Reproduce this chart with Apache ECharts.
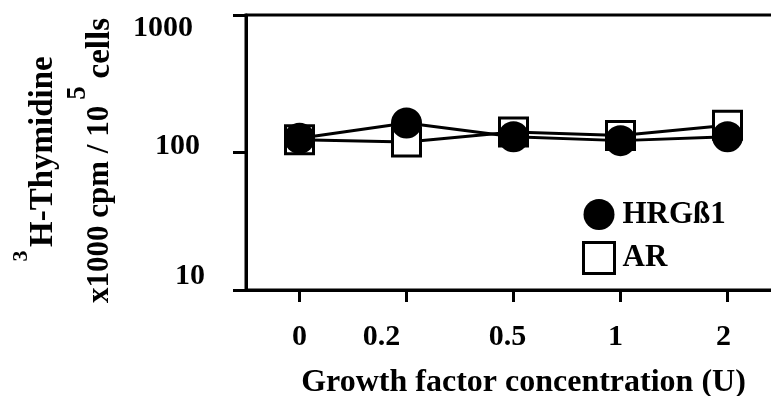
<!DOCTYPE html>
<html>
<head>
<meta charset="utf-8">
<script src="https://cdn.jsdelivr.net/npm/echarts@6/dist/echarts.min.js"></script>
<style>
html,body{margin:0;padding:0;background:#fff;}
#chart{width:771px;height:396px;}
</style>
</head>
<body>
<div id="chart"></div>
<script>
const categories = ['0', '0.2', '0.5', '1', '2'];
const hrgValues = [127, 164, 130, 122, 130];
const arValues = [124, 119, 141, 133, 158];
const yTicks = [10, 100, 1000];
const seriesNames = ['HRGß1', 'AR'];

const FONT = '"Liberation Serif", "Times New Roman", serif';
const positions = categories.map((c, i) => i);

// label nudges (styling only)
const xLabelPad = [[0, 0, 0, 0], [0, 50, 0, 0], [0, 12, 0, 0], [0, 10, 0, 0], [0, 8, 0, 0]];
const yLabelPad = {10: [0, 0, 28, 0], 100: [0, 5, 12, 0], 1000: [26, 12, 0, 0]};

const xRich = {};
xLabelPad.forEach((p, i) => {
  xRich['x' + i] = {fontFamily: FONT, fontWeight: 'bold', fontSize: 30, color: '#000', padding: p};
});
const yRich = {};
Object.keys(yLabelPad).forEach(k => {
  yRich['y' + k] = {fontFamily: FONT, fontWeight: 'bold', fontSize: 30, color: '#000', padding: yLabelPad[k]};
});

const titleStyle = {fontFamily: FONT, fontWeight: 'bold', fill: '#000'};

const chart = echarts.init(document.getElementById('chart'), null, {renderer: 'canvas'});
const option = {
  backgroundColor: '#fff',
  animation: false,
  grid: {
    left: 246, top: 15, width: 555, bottom: 106,
    containLabel: false,
    outerBoundsMode: 'none',
    show: true, borderColor: '#000', borderWidth: 3, backgroundColor: 'transparent'
  },
  xAxis: {
    type: 'value',
    min: -0.5,
    max: -0.5 + 555 / 107,
    axisLine: {show: true, onZero: false, lineStyle: {color: '#000', width: 3}},
    axisTick: {show: true, customValues: positions, length: 12, lineStyle: {color: '#000', width: 3}},
    axisLabel: {
      customValues: positions,
      formatter: v => {
        const i = Math.round(v);
        return '{x' + i + '|' + categories[i] + '}';
      },
      rich: xRich,
      color: '#000', fontFamily: FONT, fontWeight: 'bold', fontSize: 30, margin: 32
    },
    splitLine: {show: false},
    name: 'Growth factor concentration (U)',
    nameLocation: 'middle',
    nameGap: 77,
    nameTextStyle: {color: '#000', fontFamily: FONT, fontWeight: 'bold', fontSize: 32}
  },
  yAxis: {
    type: 'log',
    logBase: 10,
    min: yTicks[0],
    max: yTicks[yTicks.length - 1],
    axisLine: {show: true, onZero: false, lineStyle: {color: '#000', width: 3}},
    axisTick: {show: true, length: 13, lineStyle: {color: '#000', width: 3}},
    minorTick: {show: false},
    axisLabel: {
      formatter: v => '{y' + Math.round(v) + '|' + Math.round(v) + '}',
      rich: yRich,
      color: '#000', fontFamily: FONT, fontWeight: 'bold', fontSize: 30, margin: 41
    },
    splitLine: {show: false}
  },
  legend: {
    orient: 'vertical',
    left: 582,
    top: 199,
    padding: 0,
    itemWidth: 31,
    itemHeight: 31,
    itemGap: 11,
    textStyle: {color: '#000', fontFamily: FONT, fontWeight: 'bold', fontSize: 31, padding: [0, 0, 0, 3]},
    data: [
      {name: seriesNames[0], icon: 'circle', itemStyle: {color: '#000', borderWidth: 0}},
      {name: seriesNames[1], icon: 'rect', itemStyle: {color: '#fff', borderColor: '#000', borderWidth: 3}}
    ]
  },
  graphic: [
    {type: 'text', x: 43, y: 247, rotation: Math.PI / 2,
      style: Object.assign({text: 'H-Thymidine', fontSize: 33, align: 'left', verticalAlign: 'middle'}, titleStyle)},
    {type: 'text', x: 21, y: 256, rotation: Math.PI / 2,
      style: Object.assign({text: '3', fontSize: 22, align: 'center', verticalAlign: 'middle'}, titleStyle)},
    {type: 'text', x: 100, y: 303, rotation: Math.PI / 2,
      style: Object.assign({text: 'x1000 cpm / 10', fontSize: 31, align: 'left', verticalAlign: 'middle'}, titleStyle)},
    {type: 'text', x: 78, y: 93, rotation: Math.PI / 2,
      style: Object.assign({text: '5', fontSize: 27, align: 'center', verticalAlign: 'middle'}, titleStyle)},
    {type: 'text', x: 100, y: 18, rotation: Math.PI / 2,
      style: Object.assign({text: 'cells', fontSize: 33, align: 'right', verticalAlign: 'middle'}, titleStyle)}
  ],
  series: [
    {
      name: seriesNames[1],
      type: 'line',
      data: arValues.map((v, i) => [positions[i], v]),
      symbol: 'rect',
      symbolSize: 28,
      lineStyle: {color: '#000', width: 3},
      itemStyle: {color: '#fff', borderColor: '#000', borderWidth: 3},
      z: 2
    },
    {
      name: seriesNames[0],
      type: 'line',
      data: hrgValues.map((v, i) => [positions[i], v]),
      symbol: 'circle',
      symbolSize: 31,
      lineStyle: {color: '#000', width: 3},
      itemStyle: {color: '#000', borderWidth: 0},
      z: 3
    }
  ]
};
chart.setOption(option);
</script>
</body>
</html>
